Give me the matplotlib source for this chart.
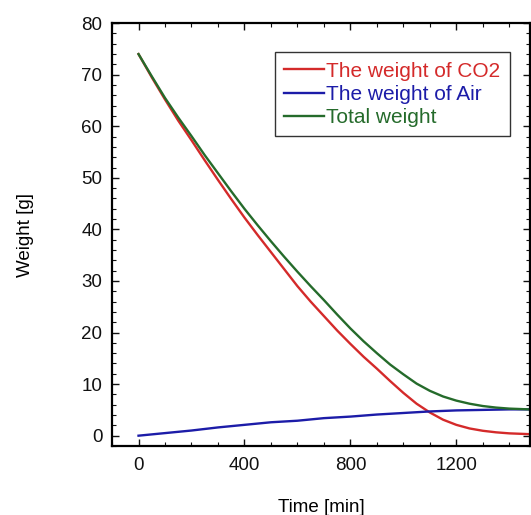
import matplotlib
matplotlib.use('Agg')
import matplotlib.pyplot as plt
from matplotlib.ticker import MultipleLocator

plt.rcParams['font.family'] = ['Liberation Sans', 'DejaVu Sans']

# time axis [min] and weights [g]
time_min = [0, 50, 100, 150, 200, 250, 300, 350, 400, 450, 500, 550, 600, 650,
            700, 750, 800, 850, 900, 950, 1000, 1050, 1100, 1150, 1200, 1250,
            1300, 1350, 1400, 1475]
co2_weight = [74.0, 69.5, 65.2, 61.1, 57.3, 53.4, 49.6, 45.9, 42.3, 38.9, 35.6,
              32.3, 29.0, 26.0, 23.2, 20.4, 17.8, 15.3, 13.0, 10.6, 8.3, 6.2,
              4.5, 3.1, 2.1, 1.4, 0.95, 0.65, 0.45, 0.3]
air_weight = [0.0, 0.25, 0.5, 0.75, 1.0, 1.3, 1.6, 1.85, 2.1, 2.35, 2.6, 2.75,
              2.9, 3.15, 3.4, 3.55, 3.7, 3.9, 4.1, 4.25, 4.4, 4.55, 4.7, 4.8,
              4.9, 4.95, 5.0, 5.05, 5.1, 5.1]
total_weight = [74.0, 69.7, 65.5, 61.7, 58.1, 54.4, 50.9, 47.4, 44.0, 40.8, 37.7,
                34.7, 31.8, 29.0, 26.3, 23.5, 20.8, 18.3, 16.0, 13.8, 11.9, 10.1,
                8.7, 7.6, 6.8, 6.2, 5.75, 5.45, 5.25, 5.1]

labels = ['The weight of CO2', 'The weight of Air', 'Total weight']
colors = ['#d42a2a', '#1c1ca8', '#256b2b']

fig = plt.figure(figsize=(5.31, 5.15), dpi=100)
ax = fig.add_axes([0.211, 0.134, 0.787, 0.821])

for y, lab, c in zip([co2_weight, air_weight, total_weight], labels, colors):
    ax.plot(time_min, y, color=c, lw=1.7, label=lab)

ax.set_xlim(-100, 1478)
ax.set_ylim(-2, 80)
ax.xaxis.set_major_locator(MultipleLocator(400))
ax.xaxis.set_minor_locator(MultipleLocator(100))
ax.yaxis.set_major_locator(MultipleLocator(10))
ax.yaxis.set_minor_locator(MultipleLocator(2))
ax.tick_params(which='both', direction='in', top=True, right=True,
               labelsize=13.5, colors='#111')
ax.tick_params(axis='x', pad=8)
ax.tick_params(axis='y', pad=7)
ax.tick_params(which='major', length=5, width=1)
ax.tick_params(which='minor', length=3, width=0.8)
for s in ax.spines.values():
    s.set_linewidth(1.6)

ax.set_xlabel('Time [min]', fontsize=13.5, labelpad=18)
ax.set_ylabel('Weight [g]', fontsize=13.5, labelpad=34)

leg = ax.legend(loc='upper right', bbox_to_anchor=(0.952, 0.931), fontsize=15,
                frameon=True, fancybox=False, edgecolor='#333', framealpha=1,
                handlelength=1.9, handletextpad=0.12, labelspacing=0.2,
                borderpad=0.45, borderaxespad=0)
leg.get_frame().set_linewidth(1.0)
for txt, c in zip(leg.get_texts(), colors):
    txt.set_color(c)

plt.savefig('out.png', dpi=100)
plt.close()
